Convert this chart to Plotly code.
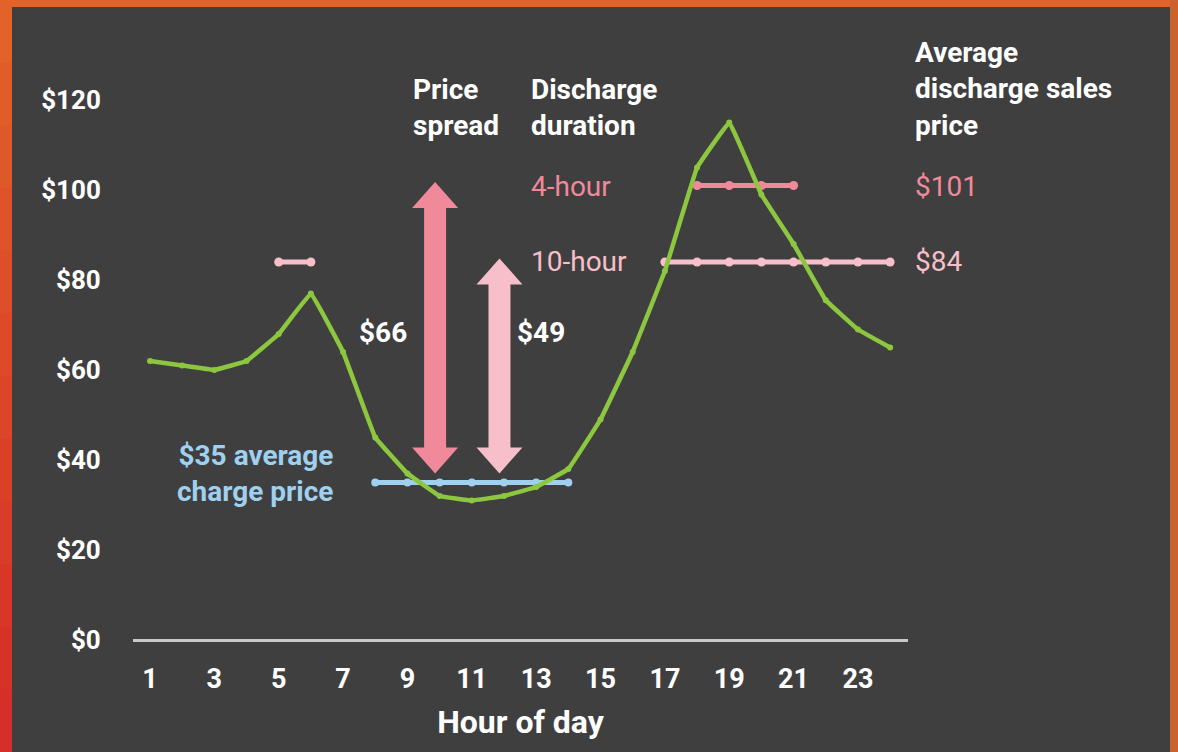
import plotly.graph_objects as go

# ---- data ----
hours = list(range(1, 25))
price = [62, 61, 60, 62, 68, 77, 64, 45, 37, 32, 31, 32, 34, 38, 49, 64, 82, 105, 115, 99, 88, 75.5, 69, 65]
charge_hours = [8, 9, 10, 11, 12, 13, 14]
avg_charge_price = 35
four_hour_hours = [18, 19, 20, 21]
four_hour_price = 101
ten_hour_hours_a = [5, 6]
ten_hour_hours_b = [17, 18, 19, 20, 21, 22, 23, 24]
ten_hour_price = 84
spreads = [66, 49]
spread_arrow_x = [9.86, 11.86]
x_tick_vals = list(range(1, 24, 2))
y_tick_vals = [0, 20, 40, 60, 80, 100, 120]
y_tick_text = ["$%d" % v for v in y_tick_vals]

# ---- layout geometry ----
W, H = 1178, 752
ML, MR, MT, MB = 133, 270, 50, 100
PW, PH = W - ML - MR, H - MT - MB
XPX = 32.18  # px per hour
YPX = 4.5    # px per dollar
x_range = [1 + (ML - 150) / XPX, 1 + (W - MR - 150) / XPX]
y_range = [(640 - (H - MB)) / YPX, (640 - MT) / YPX]

def vy(py):
    return (640 - py) / YPX

def paper_x(px):
    return (px - ML) / PW

def paper_y(py):
    return (H - MB - py) / PH

BG = "#3f3f3f"
GREEN = "#8dc63f"
PINK = "#f08a9b"
LPINK = "#f6bfc9"
BLUE = "#9fd0ef"
FONT = "Roboto"

fig = go.Figure()

# discharge lines
fig.add_trace(go.Scatter(x=four_hour_hours, y=[four_hour_price] * len(four_hour_hours),
                         mode="lines+markers", line=dict(color=PINK, width=5),
                         marker=dict(size=9, color=PINK)))
for hh in (ten_hour_hours_a, ten_hour_hours_b):
    fig.add_trace(go.Scatter(x=hh, y=[ten_hour_price] * len(hh),
                             mode="lines+markers", line=dict(color=LPINK, width=5),
                             marker=dict(size=9, color=LPINK)))
# charge line
fig.add_trace(go.Scatter(x=charge_hours, y=[avg_charge_price] * len(charge_hours),
                         mode="lines+markers", line=dict(color=BLUE, width=5),
                         marker=dict(size=8, color=BLUE)))
# price curve
fig.add_trace(go.Scatter(x=hours, y=price, mode="lines+markers",
                         line=dict(color=GREEN, width=4.5, shape="spline", smoothing=0.15),
                         marker=dict(size=6, color=GREEN)))

shapes = []
# double arrows for price spreads
sw = 11 / XPX
hw = 23 / XPX
hl = 26 / YPX
arrow_cols = [PINK, LPINK]
for c, s, col in zip(spread_arrow_x, spreads, arrow_cols):
    y1 = avg_charge_price + s + 0.8
    y0 = avg_charge_price + 2
    pts = [(c, y1), (c + hw, y1 - hl), (c + sw, y1 - hl), (c + sw, y0 + hl), (c + hw, y0 + hl),
           (c, y0), (c - hw, y0 + hl), (c - sw, y0 + hl), (c - sw, y1 - hl), (c - hw, y1 - hl)]
    path = "M " + " L ".join("%f,%f" % p for p in pts) + " Z"
    shapes.append(dict(type="path", path=path, xref="x", yref="y",
                       fillcolor=col, line=dict(width=0), layer="above"))

# border frame
def rect(x0, y0, x1, y1, col):
    return dict(type="rect", xref="paper", yref="paper",
                x0=paper_x(x0), x1=paper_x(x1), y0=paper_y(y1), y1=paper_y(y0),
                fillcolor=col, line=dict(width=0), layer="below")

shapes.append(rect(0, 0, W, 7, "#e2622a"))
n = 12
c_top = (226, 98, 42)
c_bot = (214, 46, 40)
for i in range(n):
    t = i / (n - 1)
    col = "rgb(%d,%d,%d)" % tuple(int(a + (b - a) * t) for a, b in zip(c_top, c_bot))
    shapes.append(rect(0, i * H / n, 12, (i + 1) * H / n + 1, col))
shapes.append(rect(W - 8, 0, W, H, "#c9622c"))

annotations = []
def ann(text, px, py, color="white", size=28, xanchor="left", align="left", bold=True):
    annotations.append(dict(text=("<b>%s</b>" % text) if bold else text,
                            x=paper_x(px), y=vy(py), xref="paper", yref="y",
                            xanchor=xanchor, yanchor="middle", align=align,
                            showarrow=False, font=dict(family=FONT, size=size, color=color)))

ann("Price<br>spread", 411, 107)
ann("Discharge<br>duration", 529, 107)
ann("4-hour", 529, 186, color=PINK, bold=False)
ann("10-hour", 529, 261, color=LPINK, bold=False)
ann("Average<br>discharge sales<br>price", 913, 89)
ann("$%d" % four_hour_price, 913, 186, color=PINK, bold=False)
ann("$%d" % ten_hour_price, 913, 261, color=LPINK, bold=False)
ann("$%d" % spreads[0], 383, 332, xanchor="center")
ann("$%d" % spreads[1], 515, 332)
ann("$%d average<br>charge price" % avg_charge_price, 335, 473, color=BLUE, xanchor="right", align="right")

fig.update_layout(
    width=W, height=H,
    margin=dict(l=ML, r=MR, t=MT, b=MB, pad=0),
    paper_bgcolor=BG, plot_bgcolor=BG,
    showlegend=False,
    shapes=shapes, annotations=annotations,
    font=dict(family=FONT, color="white"),
    xaxis=dict(range=x_range, tickvals=x_tick_vals,
               ticktext=["<b>%d</b>" % v for v in x_tick_vals],
               showgrid=False, zeroline=False, showline=False,
               ticks="outside", ticklen=3, tickcolor="rgba(0,0,0,0)",
               tickfont=dict(family=FONT, size=27, color="white"),
               title=dict(text="<b>Hour of day</b>", standoff=16,
                          font=dict(family=FONT, size=32, color="white"))),
    yaxis=dict(range=y_range, tickvals=y_tick_vals,
               ticktext=["<b>%s</b>" % t for t in y_tick_text],
               showgrid=False, zeroline=True, zerolinecolor="#c9c9c9", zerolinewidth=3,
               showline=False, ticks="outside", ticklen=26, tickcolor="rgba(0,0,0,0)",
               tickfont=dict(family=FONT, size=26, color="white")),
)

fig.write_html("out.html", config={"displayModeBar": False},
               post_script="document.body.style.margin='0';document.body.style.overflow='hidden';")
